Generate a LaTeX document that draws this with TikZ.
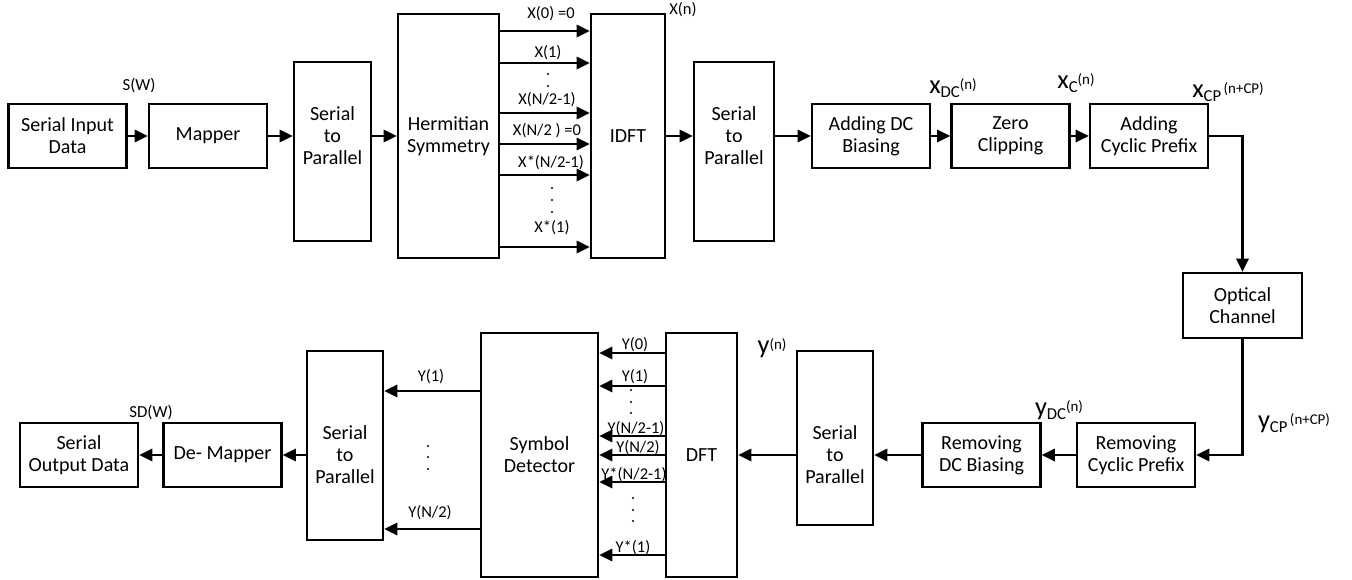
\documentclass[tikz,border=0pt]{standalone}
\usepackage{fontspec}
\setmainfont{Carlito}
\usetikzlibrary{arrows.meta}
\newcommand{\sig}[3]{{\fontsize{15}{15}\selectfont #1}\raisebox{-2.5pt}{\fontsize{9.5}{9.5}\selectfont #2}\raisebox{2.5pt}{\fontsize{8.5}{8.5}\selectfont #3}}

\begin{document}
\begin{tikzpicture}[x=0.02cm,y=-0.02cm,
    every node/.style={font=\fontsize{11.4}{12.5}\selectfont},
    blk/.style={draw,line width=1.3pt,align=center,inner sep=0pt,minimum width=2.36cm,minimum height=1.28cm},
    tall/.style={draw,line width=1.3pt,align=center,inner sep=0pt,minimum height=#1},
    small/.style={font=\fontsize{9.4}{9.4}\selectfont,inner sep=0pt},
    arr/.style={-{Triangle[length=7.5pt,width=7pt]},line width=1.3pt}]
    \useasboundingbox (0,0) rectangle (1352,580);

    % transmitter
    \node[blk] (1) at (67.5,136) {Serial Input\\Data};
    \node[blk] (2) at (208,136) {Mapper};
    \node[tall=3.58cm,minimum width=1.54cm] (3) at (332.5,151.5) {};
    \node[align=center] at (3 |- 2) {Serial\\to\\Parallel};
    \node[tall=4.88cm,minimum width=2.02cm] (4) at (448.5,136) {Hermitian\\Symmetry};
    \node[tall=4.88cm,minimum width=1.48cm] (5) at (628,136) {IDFT};
    \node[tall=3.58cm,minimum width=1.6cm] (6) at (734,151.5) {};
    \node[align=center] at (6 |- 5) {Serial\\to\\Parallel};
    \node[blk] (7) at (871,136) {Adding DC\\Biasing};
    \node[blk] (8) at (1010.5,136) {Zero\\Clipping};
    \node[blk] (9) at (1149,136) {Adding\\Cyclic Prefix};
    \node[blk,minimum width=2.38cm,minimum height=1.3cm] (10) at (1242.5,305.5) {Optical\\Channel};

    % receiver
    \node[blk] (11) at (1136,455) {Removing\\Cyclic Prefix};
    \node[blk] (12) at (981.5,455) {Removing\\DC Biasing};
    \node[tall=3.48cm,minimum width=1.52cm] (13) at (835,438) {};
    \node[align=center] at (13 |- 12) {Serial\\to\\Parallel};
    \node[tall=4.88cm,minimum width=1.42cm] (14) at (701.5,455) {DFT};
    \node[tall=4.88cm,minimum width=2.34cm] (15) at (539.5,455) {Symbol\\Detector};
    \node[tall=3.78cm,minimum width=1.52cm] (16) at (345,445.5) {};
    \node[blk] (17) at (222.5,455) {De- Mapper};
    \node[blk] (18) at (79,455) {Serial\\Output Data};
    \node[align=center] at (16 |- 17) {Serial\\to\\Parallel};

    % signal labels
    \node[small,font=\fontsize{9.6}{9.6}\selectfont] (sw) at (139,86) {S(W)};
    \node[small] (xn) at (683,10) {X(n)};
    \node (xdc) at (953,88) {\sig{x}{DC}{(n)}};
    \node (xc) at (1076,83) {\sig{x}{C}{(n)}};
    \node (xcp) at (1228,92) {\sig{x}{CP}{\,(n+CP)}};
    \node (ycp) at (1294,423) {\sig{y}{CP}{\,(n+CP)}};
    \node (ydc) at (1059,410) {\sig{y}{DC}{(n)}};
    \node (yn) at (772,348) {\sig{y}{}{(n)}};
    \node[small,font=\fontsize{9.6}{9.6}\selectfont] (sdw) at (151,413) {SD(W)};

    \node[small] (x0) at (551,14) {X(0) =0};
    \node[small] (x1) at (548,53) {X(1)};
    \node[small] (x2) at (547,100) {X(N/2-1)};
    \node[small] (x3) at (547,131) {X(N/2 ) =0};
    \node[small] (x4) at (551,163) {X*(N/2-1)};
    \node[small] (x5) at (552,228) {X*(1)};
    \foreach \y in {74,86} \fill (548,\y) circle (1.1);
    \foreach \y in {188,200,212} \fill (552,\y) circle (1.1);

    \node[small] (y0) at (635,345) {Y(0)};
    \node[small] (y1) at (635,377) {Y(1)};
    \node[small] (y2) at (636,429) {Y(N/2-1)};
    \node[small] (y3) at (638,448) {Y(N/2)};
    \node[small] (y4) at (634,475) {Y*(N/2-1)};
    \node[small] (y5) at (633,548) {Y*(1)};
    \node[small] (z1) at (431,377) {Y(1)};
    \node[small] (z2) at (430,513) {Y(N/2)};
    \foreach \y in {390,402,413} \fill (631,\y) circle (1.1);
    \foreach \y in {498,510,521} \fill (633,\y) circle (1.1);
    \foreach \y in {446,457,469} \fill (428,\y) circle (1.1);

    % arrow heights
    \coordinate (h1) at (0,31);
    \coordinate (h2) at (0,63);
    \coordinate (h3) at (0,113);
    \coordinate (h4) at (0,144);
    \coordinate (h5) at (0,175);
    \coordinate (h6) at (0,247);
    \coordinate (k1) at (0,353);
    \coordinate (k2) at (0,386);
    \coordinate (k3) at (0,436);
    \coordinate (k4) at (0,455);
    \coordinate (k5) at (0,482);
    \coordinate (k6) at (0,555);
    \coordinate (m1) at (0,391);
    \coordinate (m2) at (0,529);

    \path[arr]
    (1) edge (2)
    (2) edge (2 -| 3.west)
    (3.east |- 4) edge (4)
    (4.east |- h1) edge (5.west |- h1)
    (4.east |- h2) edge (5.west |- h2)
    (4.east |- h3) edge (5.west |- h3)
    (4.east |- h4) edge (5.west |- h4)
    (4.east |- h5) edge (5.west |- h5)
    (4.east |- h6) edge (5.west |- h6)
    (5) edge (5 -| 6.west)
    (6.east |- 7) edge (7)
    (7) edge (8)
    (8) edge (9)
    (11) edge (12)
    (12) edge (12 -| 13.east)
    (13.west |- 14) edge (14)
    (14.west |- k1) edge (15.east |- k1)
    (14.west |- k2) edge (15.east |- k2)
    (14.west |- k3) edge (15.east |- k3)
    (14.west |- k4) edge (15.east |- k4)
    (14.west |- k5) edge (15.east |- k5)
    (14.west |- k6) edge (15.east |- k6)
    (15.west |- m1) edge (16.east |- m1)
    (15.west |- m2) edge (16.east |- m2)
    (16.west |- 17) edge (17)
    (17) edge (18);
    \draw[arr] (9) -| (10);
    \draw[arr] (10) |- (11);

\end{tikzpicture}
\end{document}
